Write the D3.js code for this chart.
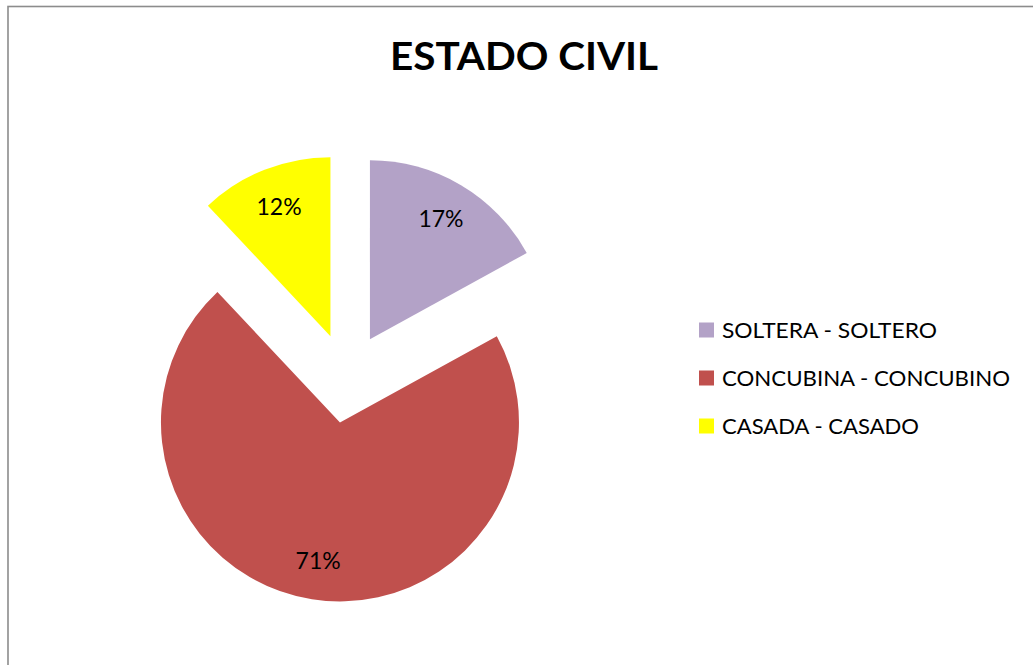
<!DOCTYPE html>
<html>
<head>
<meta charset="utf-8">
<script src="https://cdn.jsdelivr.net/npm/d3@7/dist/d3.min.js"></script>
<style>
  html, body { margin: 0; padding: 0; background: #fff; }
  svg { display: block; }
  text { font-family: Lato, "Open Sans", sans-serif; }
</style>
</head>
<body>
<svg id="chart" width="1033" height="665"></svg>
<script>
// ---- data ----
const title = "ESTADO CIVIL";
const categories = ["SOLTERA - SOLTERO", "CONCUBINA - CONCUBINO", "CASADA - CASADO"];
const values = [17, 71, 12];
const colors = ["#B3A2C7", "#C0504D", "#FFFF00"];

// ---- layout ----
const W = 1033, H = 665;
const cx = 347, cy = 378, R = 179, explode = 45;
const svg = d3.select("#chart");

// frame
svg.append("rect")
  .attr("x", 8).attr("y", 6.5)
  .attr("width", W + 20).attr("height", H + 20)
  .attr("fill", "#fff").attr("stroke", "#8c8c8c").attr("stroke-width", 1.6);

// title
svg.append("text")
  .attr("x", 524).attr("y", 70)
  .attr("text-anchor", "middle")
  .attr("font-weight", "bold")
  .attr("font-size", 38)
  .attr("textLength", 268).attr("lengthAdjust", "spacingAndGlyphs")
  .attr("fill", "#000")
  .text(title);

const data = categories.map((c, i) => ({ cat: c, value: values[i], color: colors[i] }));
const pie = d3.pie().value(d => d.value).sort(null);
const arcs = pie(data);
const arc = d3.arc().innerRadius(0).outerRadius(R);
const total = d3.sum(values);

const g = svg.append("g").attr("transform", `translate(${cx},${cy})`);

const slice = g.selectAll("g.slice").data(arcs).enter().append("g")
  .attr("class", "slice")
  .attr("transform", d => {
    const a = (d.startAngle + d.endAngle) / 2;
    return `translate(${explode * Math.sin(a)},${-explode * Math.cos(a)})`;
  });

slice.append("path")
  .attr("d", arc)
  .attr("fill", d => d.data.color);

slice.append("text")
  .attr("x", d => 0.78 * R * Math.sin((d.startAngle + d.endAngle) / 2))
  .attr("y", d => -0.78 * R * Math.cos((d.startAngle + d.endAngle) / 2))
  .attr("dy", "0.36em")
  .attr("text-anchor", "middle")
  .attr("font-size", 23)
  .attr("fill", "#000")
  .text(d => Math.round(d.data.value / total * 100) + "%");

// legend
const legendWidths = [215, 288, 197];
const lg = svg.append("g").attr("transform", "translate(699,330)");
const item = lg.selectAll("g").data(data).enter().append("g")
  .attr("transform", (d, i) => `translate(0,${i * 48})`);
item.append("rect")
  .attr("x", 0).attr("y", -7.5).attr("width", 15).attr("height", 15)
  .attr("fill", d => d.color);
item.append("text")
  .attr("x", 23).attr("y", 0).attr("dy", "0.36em")
  .attr("font-size", 21)
  .attr("fill", "#000")
  .attr("textLength", (d, i) => legendWidths[i]).attr("lengthAdjust", "spacingAndGlyphs")
  .text(d => d.cat);
</script>
</body>
</html>
